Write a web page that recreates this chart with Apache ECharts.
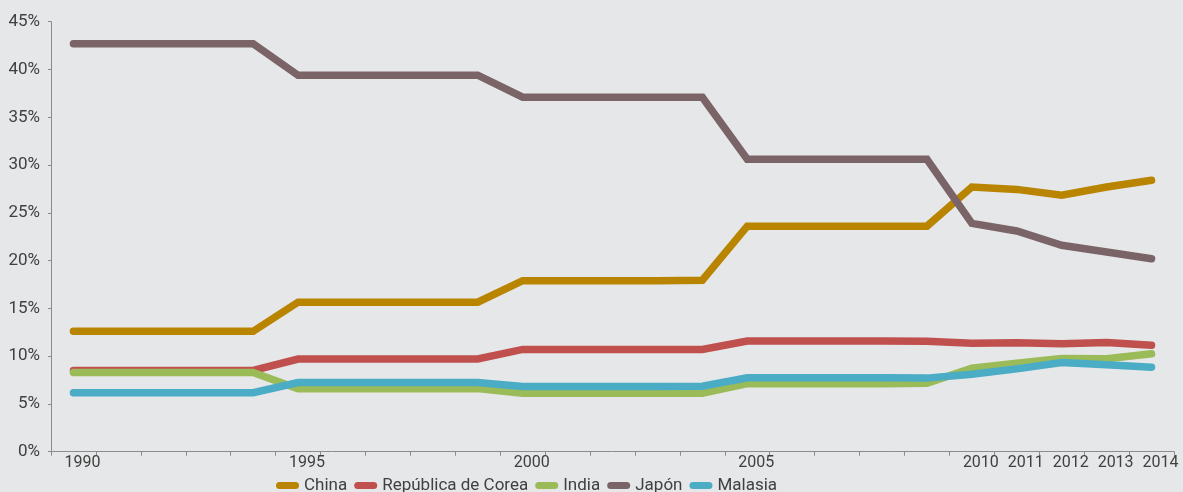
<!DOCTYPE html>
<html>
<head>
<meta charset="utf-8">
<script src="https://cdn.jsdelivr.net/npm/echarts@6/dist/echarts.min.js"></script>
<style>
html,body{margin:0;padding:0;background:#E6E7E9;}
#c{width:1183px;height:492px;}
</style>
</head>
<body>
<div id="c"></div>
<script>
var years = ['1990','1991','1992','1993','1994','1995','1996','1997','1998','1999','2000','2001','2002','2003','2004','2005','2006','2007','2008','2009','2010','2011','2012','2013','2014'];
var shownLabels = ['1990','1995','2000','2005','2010','2011','2012','2013','2014'];
var seriesNames = ['China','República de Corea','India','Japón','Malasia'];
var china   = [12.6,12.6,12.6,12.6,12.6,15.65,15.65,15.65,15.65,15.65,17.9,17.9,17.9,17.9,17.95,23.6,23.6,23.6,23.6,23.6,27.7,27.45,26.85,27.7,28.4];
var corea   = [8.5,8.5,8.5,8.5,8.5,9.7,9.7,9.7,9.7,9.7,10.7,10.7,10.7,10.7,10.7,11.58,11.58,11.58,11.58,11.55,11.36,11.4,11.3,11.43,11.15];
var india   = [8.28,8.28,8.28,8.28,8.28,6.58,6.58,6.58,6.58,6.6,6.12,6.12,6.12,6.12,6.12,7.12,7.12,7.12,7.12,7.15,8.74,9.27,9.75,9.72,10.24];
var japon   = [42.7,42.7,42.7,42.7,42.7,39.4,39.4,39.4,39.4,39.4,37.1,37.1,37.1,37.1,37.1,30.6,30.6,30.6,30.6,30.6,23.9,23.1,21.6,20.9,20.2];
var malasia = [6.18,6.18,6.18,6.18,6.18,7.23,7.23,7.23,7.23,7.23,6.83,6.83,6.83,6.83,6.85,7.74,7.74,7.74,7.74,7.7,8.11,8.67,9.33,9.09,8.85];
var colors = ['#B98400','#C0504D','#9BBB59','#7A6468','#4BACC6'];
var allData = [china, corea, india, japon, malasia];

var chart = echarts.init(document.getElementById('c'), null, {renderer:'canvas'});
var iconPath = 'path://M3.5,0 L19.5,0 A3.5,3.5 0 0 1 19.5,7 L3.5,7 A3.5,3.5 0 0 1 3.5,0 Z';
var series = seriesNames.map(function(n,i){
  return {
    name:n, type:'line', data:allData[i], symbol:'none', smooth:false,
    lineStyle:{width:7.5, color:colors[i], cap:'round', join:'miter'},
    itemStyle:{color:colors[i]},
    z: 2 + i
  };
});
chart.setOption({
  backgroundColor:'#E6E7E9',
  animation:false,
  textStyle:{fontFamily:'Roboto'},
  grid:{left:51, right:9, top:21.7, bottom:40.3, containLabel:false},
  legend:{
    left:271, top:472, itemGap:7, itemWidth:23, itemHeight:7, itemTextGap:2,
    icon:iconPath,
    textStyle:{fontFamily:'Roboto', fontSize:17, color:'#404040'},
    data:seriesNames
  },
  xAxis:{
    type:'category', data:years, boundaryGap:true,
    axisLine:{lineStyle:{color:'#8C8C8C', width:1}},
    axisTick:{show:true, interval:0, length:4, lineStyle:{color:'#8C8C8C'}},
    axisLabel:{
      interval:function(idx, val){ return shownLabels.indexOf(val) >= 0; },
      fontFamily:'Roboto', fontSize:16, color:'#404040', margin:3,
      padding:[0,0,0,18]
    },
    splitLine:{show:false}
  },
  yAxis:{
    type:'value', min:0, max:45, interval:5,
    axisLine:{show:true, lineStyle:{color:'#8C8C8C', width:1}},
    axisTick:{show:true, length:3, lineStyle:{color:'#8C8C8C'}},
    axisLabel:{formatter:'{value}%', fontFamily:'Roboto', fontSize:17, color:'#404040', margin:11},
    splitLine:{show:false}
  },
  series:series
});
</script>
</body>
</html>
